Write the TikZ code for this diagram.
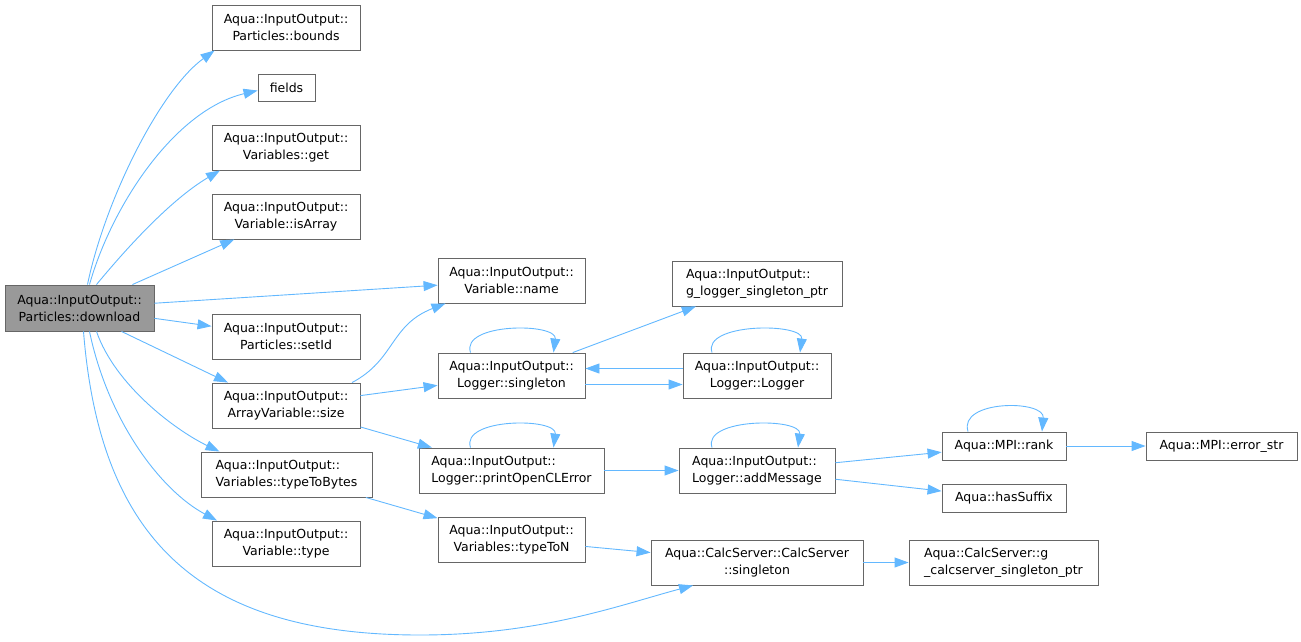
\documentclass[tikz,border=0pt]{standalone}
\usepackage{fontspec}
\setmainfont{DejaVu Sans}
\usetikzlibrary{arrows.meta}
\definecolor{edgecol}{HTML}{63B8FF}
\definecolor{boxcol}{HTML}{666666}
\definecolor{rootcol}{HTML}{999999}
\begin{document}
\begin{tikzpicture}[>={Triangle[length=14pt,width=10pt]},x=1pt,y=-1pt,
  every node/.style={font=\fontsize{12.5}{17}\selectfont},
  fn/.style={draw=boxcol,line width=0.9pt,inner sep=0pt,minimum height=45pt,align=center},
  fnl/.style={fn,align=left},
  fnshort/.style={fn,minimum height=28pt},
  call/.style={->,draw=edgecol,line width=0.9pt}]
  \useasboundingbox (0,0) rectangle (1301,641);
%%
  % Node: download
  \node[fn,fill=rootcol,minimum width=149pt,minimum height=46pt] (download) at (79.5,308) {Aqua::InputOutput::\\Particles::download};
  % Node: bounds
  \node[fn,minimum width=148pt] (bounds) at (286,27.5) {Aqua::InputOutput::\\Particles::bounds};
  % Node: fields
  \node[fn,minimum width=57pt,minimum height=27pt] (fields) at (286.5,87.5) {fields};
  % Node: get
  \node[fn,minimum width=148pt] (get) at (286,147.5) {Aqua::InputOutput::\\Variables::get};
  % Node: isArray
  \node[fn,minimum width=148pt] (isArray) at (286,216.5) {Aqua::InputOutput::\\Variable::isArray};
  % Node: setId
  \node[fn,minimum width=148pt] (setId) at (286,336.5) {Aqua::InputOutput::\\Particles::setId};
  % Node: size
  \node[fn,minimum width=148pt] (size) at (286,405.5) {Aqua::InputOutput::\\ArrayVariable::size};
  % Node: typeToBytes
  \node[fnl,minimum width=171pt] (typeToBytes) at (286.5,474.5) {Aqua::InputOutput::\\Variables::typeToBytes};
  % Node: type
  \node[fn,minimum width=148pt] (type) at (286,543.5) {Aqua::InputOutput::\\Variable::type};
  % Node: name
  \node[fn,minimum width=147pt] (name) at (511.5,280.5) {Aqua::InputOutput::\\Variable::name};
  % Node: singleton
  \node[fn,minimum width=147pt] (singleton) at (511.5,375.5) {Aqua::InputOutput::\\Logger::singleton};
  % Node: printOpenCLError
  \node[fnl,minimum width=185pt] (printOpenCLError) at (511.5,470.5) {Aqua::InputOutput::\\Logger::printOpenCLError};
  % Node: typeToN
  \node[fn,minimum width=147pt] (typeToN) at (511.5,539.5) {Aqua::InputOutput::\\Variables::typeToN};
  % Node: loggerptr
  \node[fnl,minimum width=170pt] (loggerptr) at (757,283.5) {Aqua::InputOutput::\\g\_logger\_singleton\_ptr};
  % Node: logger
  \node[fn,minimum width=148pt] (logger) at (757,375.5) {Aqua::InputOutput::\\Logger::Logger};
  % Node: addMessage
  \node[fnl,minimum width=156pt] (addMessage) at (757,470.5) {Aqua::InputOutput::\\Logger::addMessage};
  % Node: calcsingleton
  \node[fn,minimum width=212pt] (calcsingleton) at (757,562.5) {Aqua::CalcServer::CalcServer\\::singleton};
  % Node: rank
  \node[fnshort,minimum width=124pt] (rank) at (1004,446) {Aqua::MPI::rank};
  % Node: hasSuffix
  \node[fnshort,minimum width=124pt] (hasSuffix) at (1004,498) {Aqua::hasSuffix};
  % Node: calcptr
  \node[fnl,minimum width=189pt] (calcptr) at (1003.5,562.5) {Aqua::CalcServer::g\\\_calcserver\_singleton\_ptr};
  % Node: errorstr
  \node[fnshort,minimum width=151pt] (errorstr) at (1221.5,446) {Aqua::MPI::error\_str};
%%
  % Edge: download -> bounds
  \draw[call] ([xshift=8pt]download.north) .. controls (105,200) and (160,90) .. ([xshift=3pt]bounds.south west);
  % Edge: download -> fields
  \draw[call] ([xshift=10pt]download.north) .. controls (112,205) and (175,110) .. ([yshift=-3pt]fields.west);
  % Edge: download -> get
  \draw[call] ([xshift=17pt]download.north) .. controls (125,250) and (170,200) .. ([xshift=-66pt]get.south);
  % Edge: download -> isArray
  \draw[call] (download) -- (isArray);
  % Edge: download -> name
  \draw[call] (download) -- (name);
  % Edge: download -> setId
  \draw[call] (download) -- (setId);
  % Edge: download -> size
  \draw[call] ([xshift=42pt]download.south) -- ([xshift=-58pt]size.north);
  % Edge: download -> typeToBytes
  \draw[call] ([xshift=17pt]download.south) .. controls (115,385) and (175,430) .. ([xshift=-67pt]typeToBytes.north);
  % Edge: download -> type
  \draw[call] ([xshift=10pt]download.south) .. controls (108,420) and (160,490) .. ([xshift=-69pt]type.north);
  % Edge: download -> calcsingleton
  \draw[call] ([xshift=4pt]download.south) .. controls (100,540) and (200,635) .. (420,635)
    .. controls (540,635) and (620,605) .. ([xshift=-64pt]calcsingleton.south);
  % Edge: size -> name
  \draw[call] ([xshift=66pt]size.north) .. controls (395,360) and (390,325) .. ([xshift=-66pt]name.south);
  % Edge: size -> singleton
  \draw[call] (size) -- (singleton);
  % Edge: size -> printOpenCLError
  \draw[call] (size) -- (printOpenCLError);
  % Edge: typeToBytes -> typeToN
  \draw[call] (typeToBytes) -- (typeToN);
  % Edge: singleton -> singleton
  \draw[call] ([xshift=-41pt]singleton.north) .. controls +(-10,-30) and +(4,-30) .. ([xshift=42pt]singleton.north);
  % Edge: singleton -> loggerptr
  \draw[call] (singleton) -- (loggerptr);
  % Edge: singleton -> logger
  \draw[call] ([yshift=-9pt]singleton.east) -- ([yshift=-9pt]logger.west);
  % Edge: logger -> singleton
  \draw[call] ([yshift=7pt]logger.west) -- ([yshift=7pt]singleton.east);
  % Edge: logger -> logger
  \draw[call] ([xshift=-45pt]logger.north) .. controls +(-10,-30) and +(4,-30) .. ([xshift=43pt]logger.north);
  % Edge: printOpenCLError -> printOpenCLError
  \draw[call] ([xshift=-41pt]printOpenCLError.north) .. controls +(-10,-30) and +(4,-30) .. ([xshift=42pt]printOpenCLError.north);
  % Edge: printOpenCLError -> addMessage
  \draw[call] (printOpenCLError) -- (addMessage);
  % Edge: addMessage -> addMessage
  \draw[call] ([xshift=-45pt]addMessage.north) .. controls +(-10,-30) and +(4,-30) .. ([xshift=41pt]addMessage.north);
  % Edge: addMessage -> rank
  \draw[call] (addMessage) -- (rank);
  % Edge: addMessage -> hasSuffix
  \draw[call] (addMessage) -- (hasSuffix);
  % Edge: rank -> rank
  \draw[call] ([xshift=-36pt]rank.north) .. controls +(-10,-32) and +(3,-32) .. ([xshift=38pt]rank.north);
  % Edge: rank -> errorstr
  \draw[call] (rank) -- (errorstr);
  % Edge: typeToN -> calcsingleton
  \draw[call] (typeToN) -- (calcsingleton);
  % Edge: calcsingleton -> calcptr
  \draw[call] (calcsingleton) -- (calcptr);
%
\end{tikzpicture}
\end{document}
